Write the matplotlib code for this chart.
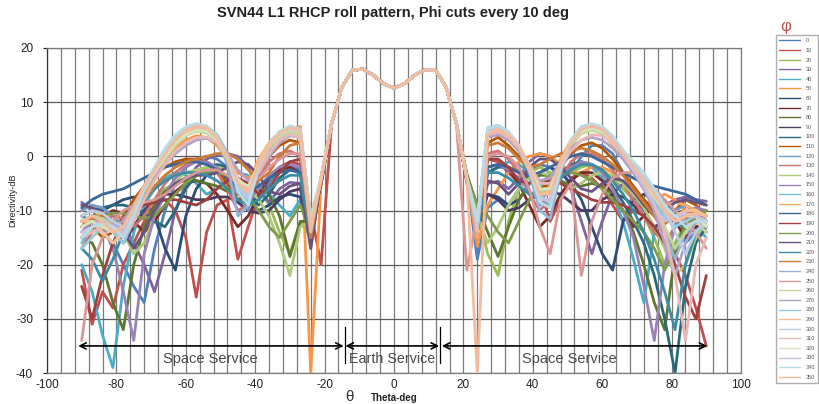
import numpy as np
import matplotlib
matplotlib.use('Agg')
import matplotlib.pyplot as plt
from matplotlib.lines import Line2D

plt.rcParams['font.family'] = ['Liberation Sans', 'DejaVu Sans']
plt.rcParams['axes.unicode_minus'] = False

# ---------------- data ----------------
theta_left = list(range(-90, -17, 3))    # -90 .. -18
theta_core = list(range(-15, 16, 3))     # -15 .. 15
theta_right = list(range(18, 91, 3))     # 18 .. 90
phi_labels = [str(p) for p in range(0, 360, 10)]

beam_core = [12.8, 15.9, 16.1, 15.0, 13.4, 12.6, 13.4, 15.0, 16.0, 15.9, 12.8]

left_000 = [-11, -12, -14, -16, -20, -24, -27, -17, -10, -5, -2, -0.5, 0, -0.5, -2, -4.5, -7, -8, -5, -2.5, -1.5, -2.5, -14, -4.5, 6]
right_000 = [6, -4, -19, -9.5, -8, -9, -6, -3, -1.5, -2, -4, -3, 0, 2, 2, 0.5, -3, -7, -10, -9, -8, -11, -16, -14, -12]
left_010 = [-21, -31, -25, -28, -20, -16, -12, -9, -8, -10, -15, -26, -14, -9, -8, -19, -13, -7, -4, -2, -1, -1.5, -10, -20, 6]
right_010 = [6, -5, -12, -0.5, -1, -3, -5, -4, -6, -12, -8, -4, -3, -4, -6, -9, -12, -10, -9, -11, -14, -18, -22, -28, -35]
left_020 = [-13, -11, -10, -12, -15, -13, -10, -8, -6, -5, -4, -3.5, -3, -2.5, -2, -3, -4, -6, -9, -14, -18, -12, -15, -5, 6]
right_020 = [6, -3, -10, -18, -22, -12, -6, -3, -2, -3, -4, -3, -2, -1.5, -2.5, -4, -6, -8, -11, -15, -20, -16, -12, -11, -13]
left_030 = [-8.5, -10, -11, -12, -13, -16, -20, -25, -18, -10, -5, -2, -0.5, 0.3, 0.5, 0, -2, -6, -8.5, -6, -4.8, -5, -16, -5, 6]
right_030 = [6, -4, -14, -5, -4.6, -6, -4, -1, 0.5, 0, -2, -6, -12, -18, -12, -7, -5, -6, -8, -10, -9, -8, -7.5, -8, -8.3]
left_040 = [-20, -25, -33, -39, -24, -14, -9, -6, -4, -3, -3.5, -5, -7, -6, -4, -3, -3.5, -5, -7, -9, -11, -8, -14, -4, 6]
right_040 = [6, -4, -13, -3, -2, -1, -1.5, -3, -5, -6, -4, -2, -1, -2, -4, -7, -12, -19, -27, -14, -10, -11, -14, -13, -15]
left_050 = [-10, -9, -10, -12, -14, -11, -7, -4, -1, 1.5, 3, 3.8, 3.5, 2, -0.5, -3, -4, -2, 1, 3.5, 5, 5.5, -40, -5, 6]
right_050 = [6, -4, -16.6, -9, -6, -3, -1, 0, 0.5, 0, -1.5, -3, -3, -2, -2, -3, -5, -7, -9, -8, -7, -8, -10, -12, -14]
left_060 = [-12, -11, -10, -9, -8, -7.5, -8, -11, -17, -21, -11, -6, -3.5, -3, -4, -6, -8, -10, -9, -7.5, -7, -7.5, -15, -4.5, 6]
right_060 = [6, -4.5, -14, -7, -7.5, -9, -8, -5, -3, -2, -3, -5, -8, -13, -18, -21, -12, -8, -7, -8, -10, -12, -13, -11, -10]
left_070 = [-15, -13, -11, -10, -10.5, -12, -14, -12, -9, -6.5, -5, -4.5, -5, -7, -10, -13, -11, -7, -4, -2.5, -2, -3, -13, -5, 6]
right_070 = [6, -4, -11, -2, -1.5, -2.5, -5, -9, -13, -11, -7, -4.5, -3, -3, -4.5, -7, -10, -13, -11, -9, -9.5, -12, -15, -13, -12]
left_080 = [-15, -16, -20, -27, -32, -20, -13, -9, -6.5, -5, -4.5, -4.5, -5, -5.5, -6.5, -7, -6, -5.5, -7, -11, -18.5, -12, -12, -5, 6]
right_080 = [6, -3.5, -9, -14, -18.5, -13, -8, -5, -3.5, -3.5, -4.5, -5.5, -5.5, -5, -5.5, -7, -10, -14, -20, -27, -32, -18, -12, -10, -11]
left_090 = [-13, -12, -12.5, -14, -16, -13, -10, -8, -7, -7, -7.5, -8, -8, -7.5, -7.5, -8.5, -10, -10.5, -10, -8, -6.5, -6, -16, -4, 6]
right_090 = [6, -4, -12, -7, -8, -10, -9.5, -8, -7, -6.5, -7, -8.5, -10, -10, -8, -7, -7.5, -9, -11, -13, -12, -10.5, -10, -11, -12]
left_100 = [-11, -10, -9.5, -9, -9, -9.5, -10.5, -12, -13, -10, -6, -3.5, -2, -1.5, -2, -4, -7, -9, -7, -4, -2.5, -3, -14, -4, 6]
right_100 = [6, -4, -14, -3, -2, -2, -3, -4, -5, -4.5, -3, -1.5, -1, -1.5, -3, -5.5, -8.5, -12, -16, -22, -30, -40, -24, -16, -13]
left_110 = [-12, -13, -15, -14, -11, -8, -5.5, -3.5, -2, -1, -0.5, -0.5, -1, -2.5, -5, -8, -7, -3, 0, 2, 3, 2.5, -17, -4, 6]
right_110 = [6, -4, -12, 2.5, 3.5, 2, 0, -3, -6, -5, -2, 0.5, 2, 2.5, 1.5, -0.5, -3, -5.5, -8, -10, -12, -10, -8, -9, -11]
left_120 = [-10, -9, -9.5, -11, -13, -10, -6, -3, 0, 2.5, 4.5, 5.5, 5.3, 3.5, 0.5, -5, -10, -3, 1, 3.5, 4.8, 4.5, -13, -4, 6]
right_120 = [6, -4, -13, 4.5, 5, 3.5, 1, -3, -9, -8, -2, 2, 4.5, 5.5, 5, 3, 0, -3, -6, -9, -12, -10, -9, -10, -12]
left_130 = [-17, -14, -12, -11, -11.5, -13, -11, -8, -5, -3, -1.5, -1, -1.5, -3, -6, -10, -9, -4, -1, 0.5, 1, 0, -12, -5, 6]
right_130 = [6, -4.5, -11, 0.5, 1, -0.5, -3, -7, -10, -8, -4, -1, 0.5, 0.5, -0.5, -2.5, -5, -8, -11, -14, -16, -13, -11, -12, -14]
left_140 = [-12, -11, -11, -12, -14, -18, -16, -11, -7, -4.5, -3, -2.5, -2, -2, -2.5, -4, -6, -8, -11, -16, -22, -13, -12, -4.5, 6]
right_140 = [6, -4, -11, -16, -13, -9, -6, -4, -3, -3.5, -5, -6, -5, -3.5, -3, -3.5, -5, -7, -9.5, -13, -17, -22, -20, -15, -12]
left_150 = [-14, -12, -13, -17, -25, -34, -18, -11, -7, -4, -2, -1, -1, -2, -4, -7, -8, -6, -3.5, -2, -1.5, -2, -13, -4, 6]
right_150 = [6, -4, -12, -2, -1.5, -2.5, -4, -6.5, -8, -6.5, -4, -2, -1, -1.5, -3, -6, -10, -15, -24, -34, -20, -13, -10, -9.5, -10]
left_160 = [-16, -13, -12, -13, -15, -11, -6, -2.5, 0.5, 3, 4.8, 5.7, 5.5, 4, 0.5, -6, -9, -2, 2, 4, 5, 4.5, -12, -4, 6]
right_160 = [6, -4, -12, 5, 5.5, 4.3, 2, -2, -7, -9, -2.5, 2.5, 5, 5.8, 5.2, 3.5, 1, -1.5, -4, -7, -10, -12, -11, -10, -11]
left_170 = [-11, -10, -11, -13, -12, -9, -5.5, -2.5, 0.5, 2.8, 4.3, 5, 4.5, 2.5, -1, -6, -5, -0.5, 2.5, 4.5, 5.3, 4.8, -14, -4, 6]
right_170 = [6, -4, -15, 5, 5.3, 4, 1.5, -2.5, -7.5, -5.5, -0.5, 3, 5, 5.3, 4.5, 2, -0.5, -3, -6, -8, -9, -8.5, -9, -10, -11]
left_180 = [-9.5, -8, -7, -6.5, -6, -5, -4, -3, -2, -1.5, -1, -1, -1.5, -2.5, -4, -5.5, -6.5, -5.5, -4, -3, -2.5, -3, -14, -4.5, 6]
right_180 = [6, -4, -13, -2, -1.5, -2, -3, -3.5, -3, -2, -1, 0, 0.5, 0, -1, -2, -3, -4, -5, -5.5, -6, -6.5, -7, -8, -9]
left_190 = [-24, -30, -22, -16, -12, -10, -9, -8.5, -8, -8, -8.5, -9, -8, -6, -4.5, -4, -5, -7, -6, -3, -1, -0.5, -12, -5, 6]
right_190 = [6, -4, -13, -0.5, -0.5, -2, -4.5, -5, -4.5, -4.5, -5, -6, -7, -8, -8.5, -8.5, -9, -10, -11, -13, -16, -20, -26, -30, -22]
left_200 = [-13, -12, -11, -10.5, -10.5, -11, -11.5, -11, -9, -7, -5, -3.5, -3, -3, -3.5, -5, -7.5, -10, -13, -15, -12, -9, -14, -4.5, 6]
right_200 = [6, -4, -9, -11, -14, -16, -12, -8, -5, -3.5, -3, -3, -3.5, -4.5, -6, -8, -10, -12, -14, -17, -21, -17, -13, -11, -10]
left_210 = [-9, -9.5, -10.5, -12, -14, -17, -14, -10, -7, -5, -4, -3.5, -3.5, -3, -2, -1, -1.5, -3.5, -6.5, -7, -5.5, -5, -17, -4, 6]
right_210 = [6, -4, -11, -4.5, -5, -7, -5, -2, -0.5, -0.5, -2, -4, -6, -6.5, -5, -4, -4.5, -6.5, -9, -11, -10, -8.5, -8, -8.5, -9]
left_220 = [-17, -19, -23, -19, -14, -10.5, -8, -6, -4.5, -3.5, -3, -3, -3.5, -4.5, -6, -8, -9, -8, -6, -4.5, -3.5, -3.5, -15, -4, 6]
right_220 = [6, -4, -14, -3, -3, -4, -5.5, -7, -7, -6, -4, -2.5, -1.5, -1.5, -2.5, -4.5, -7, -10, -14, -19, -25, -32, -20, -14, -12]
left_230 = [-13, -11.5, -11, -12, -13, -11, -8, -5.5, -3.5, -2, -1, -0.5, 0, 0.5, 0.5, -0.5, -2.5, -4.5, -3, 0, 2, 2.5, -15, -4, 6]
right_230 = [6, -4.5, -13, 2, 2.5, 1.5, -0.5, -2, -1.5, -0.5, 0.5, 1, 1.5, 1, 0, -1.5, -3.5, -6, -8.5, -11, -12.5, -11, -10, -10.5, -12]
left_240 = [-15, -13, -11.5, -12, -14, -10, -6, -2.5, 0.5, 3, 4.7, 5.4, 5, 3, -1.5, -11, -9, -2, 2, 4.2, 5.2, 4.8, -12, -4, 6]
right_240 = [6, -4, -12, 4.8, 5.2, 4, 1.5, -3, -10, -11.5, -3, 2, 4.5, 5.5, 5.2, 3.5, 1, -2, -5, -9, -14, -19, -14, -12, -13]
left_250 = [-34, -20, -15, -12, -10, -9, -8.5, -8, -7, -5.5, -4, -3, -2.5, -2.5, -3.5, -5, -5.5, -4, -2, -0.5, 0.5, 0.5, -13, -4.5, 6]
right_250 = [6, -21, -11, 0, 0.5, 0, -2, -6, -13, -18, -8, -5, -22, -12, -7, -4, -3, -3, -4, -6, -8, -10, -12, -14, -17]
left_260 = [-12, -11, -11.5, -13, -14, -10.5, -6.5, -3.5, -0.5, 2, 3.8, 4.6, 4.3, 2.6, -0.5, -5, -6, -2, 1.5, 3.5, 4.5, 4, -11, -4, 6]
right_260 = [6, -4, -11, 4, 4.5, 3.2, 1, -2.5, -6.5, -6, -1.5, 2, 4.2, 4.8, 4.2, 2.5, 0, -2.5, -5.5, -9, -13, -17, -14, -12, -14]
left_270 = [-13, -12, -12, -13, -12, -9, -6, -3.5, -1.5, 0.5, 2, 3, 3.3, 2.5, 0.5, -2.5, -4.5, -3, 0, 2.5, 3.8, 3.5, -13, -4, 6]
right_270 = [6, -4, -13, 3.5, 4, 3, 1, -2, -4.5, -4, -1, 1.5, 3, 3.5, 3, 1.5, -0.5, -3, -6, -10, -16, -22, -16, -12, -11]
left_280 = [-17, -15, -13, -14, -16, -12, -6.5, -2.5, 1, 3.5, 5.3, 6, 5.6, 3.8, 0, -6, -7.5, -1.5, 2.3, 4.5, 5.6, 5, -12, -4, 6]
right_280 = [6, -4, -12, 5.3, 5.7, 4.5, 2, -2, -8, -8, -1.5, 3, 5.5, 6, 5.4, 3.5, 0.5, -2, -5, -8, -11, -13, -12, -11, -12]
left_290 = [-12, -12, -14, -16, -14, -10, -6, -3, 0, 2.5, 4.5, 5.3, 5, 3, -0.5, -6, -6.5, -1, 2.5, 4.5, 5.4, 5, -13, -4, 6]
right_290 = [6, -4, -14, 5.2, 5.6, 4.2, 1.8, -2.5, -7, -6.5, -1, 3, 5.2, 5.8, 5.2, 3.2, 0.5, -2, -4.5, -7, -9.5, -11, -10, -10, -11]
left_300 = [-11, -10, -10.5, -12, -13, -9.5, -5.5, -2, 1, 3.5, 5, 5.8, 5.4, 3.5, 0, -5.5, -8, -2, 2, 4.3, 5.4, 4.8, -12, -4, 6]
right_300 = [6, -4, -12, 5, 5.5, 4.2, 2, -2, -7.5, -8.5, -2, 2.8, 5, 5.8, 5.3, 3.6, 1, -1.5, -4, -7, -10, -14, -18, -14, -12]
left_310 = [-15, -14, -13, -13.5, -15, -12, -8, -4.5, -1.5, 1, 2.5, 3.5, 3.5, 2.5, 0, -4, -6, -3, 0.5, 3, 4, 3.5, -14, -4, 6]
right_310 = [6, -4, -13, 4, 4.5, 3.5, 1.5, -1.5, -5, -5, -2, 1, 3, 4, 3.8, 2.5, 0.5, -2, -5, -9, -14, -22, -34, -20, -15]
left_320 = [-13, -12, -13, -14, -13, -10, -6, -3, 0, 2.5, 4, 4.8, 4.6, 3, 0, -4.5, -5.5, -1.5, 2, 4, 5, 4.5, -12, -4, 6]
right_320 = [6, -4, -12, 4.5, 5, 4, 1.8, -2, -6, -6, -1.5, 2.5, 4.6, 5.2, 4.6, 2.8, 0.5, -2, -4.5, -7.5, -10, -12, -11, -11, -13]
left_330 = [-14, -13, -12, -13, -14, -10.5, -6, -2.5, 0.5, 3, 4.8, 5.5, 5.2, 3.4, 0, -5, -7, -1.8, 2, 4.2, 5.2, 4.7, -13, -4, 6]
right_330 = [6, -4, -13, 4.8, 5.3, 4, 1.8, -2.5, -8, -8, -2, 2.5, 5, 5.6, 5, 3, 0.2, -2.5, -5.5, -9, -12, -11, -10.5, -11, -12]
left_340 = [-15, -13, -12.5, -13, -15, -11, -6, -2, 1.5, 4, 5.5, 6, 5.6, 3.7, 0, -6.5, -9, -2, 2.2, 4.5, 5.6, 5, -12, -4, 6]
right_340 = [6, -4, -12, 5.2, 5.7, 4.4, 2, -2, -8.5, -9.5, -2.5, 3, 5.4, 6, 5.5, 3.8, 1.2, -1, -3, -6, -9, -11, -13, -12, -12]
left_350 = [-12, -11, -12, -14, -13, -9.5, -5.5, -2.5, 0.5, 3, 4.8, 5.6, 5.3, 3.4, 0, -5, -6.5, -1.5, 2, 4.2, 5.3, 4.8, -13, -4, 6]
right_350 = [6, -4, -40, 4, 5, 4, 2, -2, -7, -7, -1.5, 2.5, 5, 5.6, 5, 3, 0.5, -2, -4.5, -7, -10, -12, -11, -10.5, -11]

lefts = [left_000, left_010, left_020, left_030, left_040, left_050, left_060, left_070, left_080,
         left_090, left_100, left_110, left_120, left_130, left_140, left_150, left_160, left_170,
         left_180, left_190, left_200, left_210, left_220, left_230, left_240, left_250, left_260,
         left_270, left_280, left_290, left_300, left_310, left_320, left_330, left_340, left_350]
rights = [right_000, right_010, right_020, right_030, right_040, right_050, right_060, right_070, right_080,
          right_090, right_100, right_110, right_120, right_130, right_140, right_150, right_160, right_170,
          right_180, right_190, right_200, right_210, right_220, right_230, right_240, right_250, right_260,
          right_270, right_280, right_290, right_300, right_310, right_320, right_330, right_340, right_350]

# ---------------- style ----------------
palette = [
    '#4F81BD', '#C0504D', '#9BBB59', '#8064A2', '#4BACC6', '#F79646',
    '#2C4D75', '#772C2A', '#5F7530', '#4D3B62', '#276A7C', '#B65708',
    '#729ACA', '#CD7371', '#AFC97A', '#9983B5', '#6FBDD1', '#F9AB6B',
    '#3A679C', '#9E413E', '#7F9A48', '#69537E', '#3C8DA3', '#CC7B38',
    '#95B3D7', '#D99795', '#C3D69B', '#B2A2C7', '#93CDDD', '#FAC090',
    '#B9CDE5', '#E6B9B8', '#D7E4BD', '#CCC1DA', '#B7DEE8', '#F4BC9C',
]

W, H = 819, 404
fig = plt.figure(figsize=(W / 100, H / 100), dpi=100)
ax = fig.add_axes([47 / W, 1 - 373 / H, (741 - 47) / W, (373 - 48) / H])

theta = theta_left + theta_core + theta_right
handles = []
for i in range(len(phi_labels)):
    vals = lefts[i] + beam_core + rights[i]
    ax.plot(theta, vals, color=palette[i], lw=2.0, solid_joinstyle='round',
            solid_capstyle='round', zorder=3)
    handles.append(Line2D([], [], color=palette[i], lw=1.0))

ax.set_xlim(-100, 100)
ax.set_ylim(-40, 20)
ax.set_xticks(np.arange(-100, 101, 20))
ax.set_xticks(np.arange(-100, 101, 4), minor=True)
ax.set_yticks(np.arange(-40, 21, 10))
ax.grid(True, which='both', axis='x', color='#7a7a7a', lw=0.9, zorder=1)
ax.grid(True, which='major', axis='y', color='#5a5a5a', lw=0.9, zorder=1)
ax.tick_params(axis='x', which='both', length=0, labelsize=8.5, pad=4, colors='#222222')
ax.tick_params(axis='y', which='major', length=3, labelsize=8.5, pad=7, colors='#222222',
               width=0.8)
for s in ax.spines.values():
    s.set_color('#7a7a7a')
    s.set_linewidth(0.9)
ax.spines['left'].set_color('#333333')

# service annotations
arrow_y = -35
space_left = (-91, -14.5)
earth = (-14, 13)
space_right = (13.8, 90.3)
for a, b in (space_left, earth, space_right):
    ax.annotate('', xy=(b, arrow_y), xytext=(a, arrow_y),
                arrowprops=dict(arrowstyle='<->', color='black', lw=1.2,
                                mutation_scale=11, shrinkA=0, shrinkB=0), zorder=5)
for xb in (-14.2, 13.4):
    ax.plot([xb, xb], [-31.5, -38.2], color='black', lw=0.9, zorder=5)
ax.text(-53, -37.4, 'Space Service', ha='center', va='center', fontsize=10.5, color='#4a4a4a', zorder=6)
ax.text(-0.5, -37.4, 'Earth Service', ha='center', va='center', fontsize=10.3, color='#4a4a4a', zorder=6)
ax.text(50.5, -37.4, 'Space Service', ha='center', va='center', fontsize=10.5, color='#4a4a4a', zorder=6)

# titles / labels
fig.text(393 / W, 1 - 13 / H, 'SVN44 L1 RHCP roll pattern, Phi cuts every 10 deg',
         ha='center', va='center', fontsize=10.5, fontweight='bold', color='#222222')
fig.text(13 / W, 1 - 200 / H, 'Directivity-dB', rotation=90, ha='center', va='center',
         fontsize=6.5, color='#222222')
fig.text(349 / W, 1 - 397 / H, 'θ', ha='center', va='center', fontsize=11, color='#333333')
fig.text(394 / W, 1 - 398 / H, 'Theta-deg', ha='center', va='center', fontsize=7,
         fontweight='bold', color='#222222')

# legend
leg = fig.legend(handles, phi_labels, loc='upper left',
                 bbox_to_anchor=(776 / W, 1 - 35 / H), bbox_transform=fig.transFigure,
                 fontsize=4, frameon=True, handlelength=3.8, handletextpad=0.9,
                 labelspacing=0.83, borderpad=0.6, borderaxespad=0, fancybox=False)
leg.get_frame().set_edgecolor('#9a9a9a')
leg.get_frame().set_linewidth(1.0)
for t in leg.get_texts():
    t.set_color('#555555')
fig.text(786 / W, 1 - 27 / H, 'φ', ha='center', va='center', fontsize=12, color='#C0504D')

fig.savefig('out.png', dpi=100)
